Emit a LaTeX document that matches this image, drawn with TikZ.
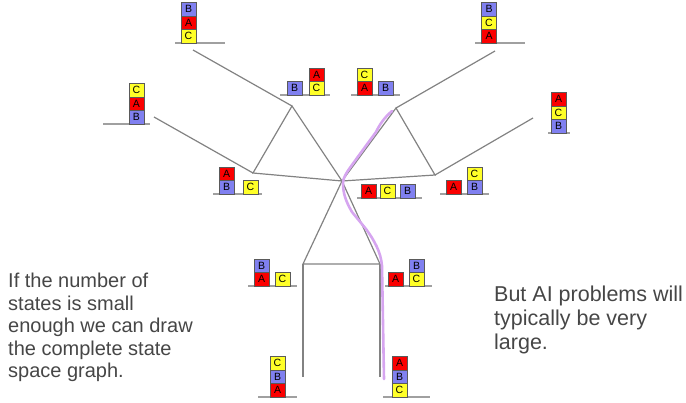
\documentclass[tikz,border=0pt]{standalone}
\usepackage{fontspec}
\setmainfont{Liberation Sans}
\definecolor{bred}{RGB}{250,0,0}
\definecolor{byel}{RGB}{255,255,40}
\definecolor{bblu}{RGB}{128,128,240}
\definecolor{edgegray}{RGB}{130,130,130}
\definecolor{tablegray}{RGB}{160,160,160}
\definecolor{pathviolet}{RGB}{214,165,240}
\definecolor{txtgray}{RGB}{70,70,70}
\tikzset{
  blk/.style={draw={rgb,255:red,90;green,90;blue,90}, line width=0.6pt, minimum width=15pt, minimum height=13.5pt, inner sep=0pt, font=\fontsize{10.5}{10.5}\selectfont},
  ba/.style={blk, fill=bred},
  bb/.style={blk, fill=bblu},
  bc/.style={blk, fill=byel},
  tbl/.style={draw=tablegray, line width=1.5pt},
  edgeline/.style={draw=edgegray, line width=1.2pt},
  solpath/.style={draw=pathviolet, line width=2.6pt, line cap=round, line join=round},
  note/.style={anchor=north west, inner sep=0pt, align=left, text=txtgray}
}
\begin{document}
\begin{tikzpicture}[x=1pt,y=-1pt]
\useasboundingbox (0,0) rectangle (686,402);
% graph vertices
\coordinate (c) at (342,181);
\coordinate (ulA) at (292,106);
\coordinate (ulL) at (253,173);
\coordinate (urA) at (396,108);
\coordinate (urR) at (435,175);
\coordinate (bL) at (303,264);
\coordinate (bR) at (380,264);
\coordinate (tTL) at (193,50);
\coordinate (tL) at (154,117);
\coordinate (tTR) at (495,51);
\coordinate (tR) at (533,118);
\coordinate (tBL) at (303,377);
\coordinate (tBR) at (380,377);
% edges
\draw[edgeline] (c) -- (ulA) -- (ulL) -- cycle;
\draw[edgeline] (c) -- (urA) -- (urR) -- cycle;
\draw[edgeline] (c) -- (bL) -- (bR) -- cycle;
\draw[edgeline] (ulA) -- (tTL);
\draw[edgeline] (ulL) -- (tL);
\draw[edgeline] (urA) -- (tTR);
\draw[edgeline] (urR) -- (tR);
\draw[edgeline] (bL) -- (tBL);
\draw[edgeline] (bR) -- (tBR);
% solution path
\draw[solpath] (392,111) .. controls (384,118) and (380,124) .. (376,132)
  -- (357,158) .. controls (350,168) and (343,176) .. (343,183)
  .. controls (343,192) and (345,200) .. (352,212)
  -- (366,229) .. controls (374,240) and (381,252) .. (382,266)
  -- (384,379);
% 1 top-left tower
\draw[tbl] (175,43) -- (225,43);
\node[bc] (s1c) at (188.5,36.25) {C};
\node[ba] (s1a) at (188.5,22.75) {A};
\node[bb] (s1b) at (188.5,9.25) {B};
% 2 top-right tower
\draw[tbl] (475,43) -- (525,43);
\node[ba] (s2a) at (489,36.25) {A};
\node[bc] (s2c) at (489,22.75) {C};
\node[bb] (s2b) at (489,9.25) {B};
% 3 B ; A on C
\draw[tbl] (280,95) -- (330,95);
\node[bb] (s3b) at (294.5,88.25) {B};
\node[bc] (s3c) at (316.5,88.25) {C};
\node[ba] (s3a) at (316.5,74.75) {A};
% 4 C on A ; B
\draw[tbl] (351,95) -- (400,95);
\node[ba] (s4a) at (364.5,88.25) {A};
\node[bc] (s4c) at (364.5,74.75) {C};
\node[bb] (s4b) at (385.5,88.25) {B};
% 5 left tower
\draw[tbl] (103,124) -- (150,124);
\node[bb] (s5b) at (136.5,117.25) {B};
\node[ba] (s5a) at (136.5,103.75) {A};
\node[bc] (s5c) at (136.5,90.25) {C};
% 6 right tower
\draw[tbl] (548,133) -- (570,133);
\node[bb] (s6b) at (558.5,126.25) {B};
\node[bc] (s6c) at (558.5,112.75) {C};
\node[ba] (s6a) at (558.5,99.25) {A};
% 7 A on B ; C
\draw[tbl] (213,194) -- (262,194);
\node[bb] (s7b) at (226.5,187.25) {B};
\node[ba] (s7a) at (226.5,173.75) {A};
\node[bc] (s7c) at (250.5,187.25) {C};
% 8 all on table
\draw[tbl] (357,198) -- (422,198);
\node[ba] (s8a) at (368.5,191.25) {A};
\node[bc] (s8c) at (387.5,191.25) {C};
\node[bb] (s8b) at (407.5,191.25) {B};
% 9 A ; C on B
\draw[tbl] (440,194) -- (489,194);
\node[ba] (s9a) at (453.5,187.25) {A};
\node[bb] (s9b) at (474.5,187.25) {B};
\node[bc] (s9c) at (474.5,173.75) {C};
% 10 B on A ; C
\draw[tbl] (248,286) -- (297,286);
\node[ba] (s10a) at (261.5,279.25) {A};
\node[bb] (s10b) at (261.5,265.75) {B};
\node[bc] (s10c) at (282.5,279.25) {C};
% 11 A ; B on C
\draw[tbl] (385,286) -- (432,286);
\node[ba] (s11a) at (395.5,279.25) {A};
\node[bc] (s11c) at (416.5,279.25) {C};
\node[bb] (s11b) at (416.5,265.75) {B};
% 12 bottom-left tower
\draw[tbl] (258,397) -- (297,397);
\node[ba] (s12a) at (277.5,390.25) {A};
\node[bb] (s12b) at (277.5,376.75) {B};
\node[bc] (s12c) at (277.5,363.25) {C};
% 13 bottom-right tower
\draw[tbl] (383,397) -- (430,397);
\node[bc] (s13c) at (399.5,390.25) {C};
\node[bb] (s13b) at (399.5,376.75) {B};
\node[ba] (s13a) at (399.5,363.25) {A};
% notes
\node[note, font=\fontsize{20}{22.5}\selectfont] (lefttext) at (8,273)
  {If the number of\\states is small\\enough we can draw\\the complete state\\space graph.};
\node[note, font=\fontsize{21.5}{24}\selectfont] (righttext) at (494,286)
  {But AI problems will\\typically be very\\large.};
\end{tikzpicture}
\end{document}
